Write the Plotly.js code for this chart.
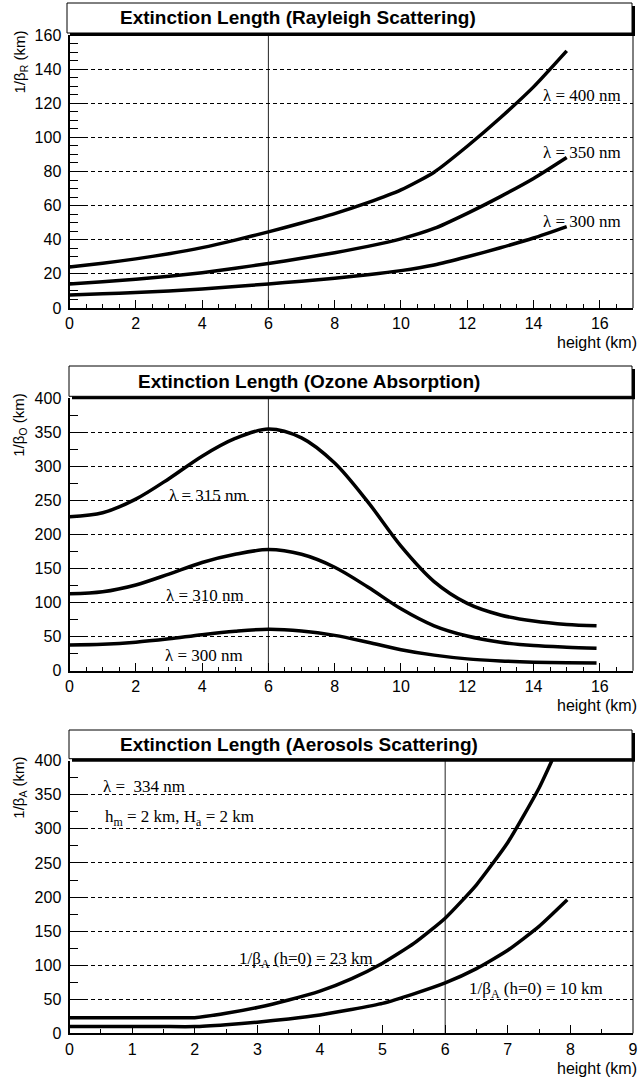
<!DOCTYPE html>
<html>
<head>
<meta charset="utf-8">
<script src="https://cdn.plot.ly/plotly-3.0.1.min.js"></script>
<style>
  html, body { margin: 0; padding: 0; background: #fff; }
  #chart { width: 641px; height: 1078px; }
</style>
</head>
<body>
<div id="chart"></div>
<script>
// ---- Rayleigh scattering: extinction length (km) vs height (km)
const rayleighHeight = [0, 1, 2, 3, 4, 5, 6, 7, 8, 9, 10, 11, 12, 13, 14, 15];
const rayleigh300 = [7.6, 8.3, 9.1, 10.0, 11.2, 12.6, 14.1, 15.7, 17.5, 19.5, 21.9, 25.2, 30.0, 35.3, 41.0, 47.7];
const rayleigh350 = [14.1, 15.4, 16.8, 18.6, 20.7, 23.3, 26.1, 29.1, 32.4, 36.1, 40.5, 46.6, 55.5, 65.3, 75.9, 88.2];
const rayleigh400 = [24.0, 26.2, 28.8, 31.8, 35.4, 39.8, 44.6, 49.8, 55.3, 61.7, 69.2, 79.6, 94.8, 111.5, 129.6, 150.7];

// ---- Ozone absorption
const ozoneHeight = [0, 1, 2, 3, 4, 5, 6, 7, 8, 9, 10, 11, 12, 13, 14, 15, 15.9];
const ozone300 = [38, 39, 42, 47, 53, 58, 61, 58.5, 52, 42, 31, 23, 17.5, 14.5, 12.7, 11.8, 11.4];
const ozone310 = [113, 116, 126, 142, 159, 171, 178, 171, 152, 123, 91, 66, 51, 42, 37, 34.5, 33];
const ozone315 = [226, 232, 252, 282, 315, 341, 355, 342, 305, 248, 183, 131, 99, 82, 73, 68, 66];

// ---- Aerosol scattering
const aerosolHeight = [0, 0.5, 1, 1.5, 2, 2.5, 3, 3.5, 4, 4.5, 5, 5.5, 6, 6.5, 7, 7.5, 7.95];
const aerosol23 = [23, 23, 23, 23, 23, 29.5, 38, 49, 62, 80, 103, 132, 169, 218, 280, 360, 450];
const aerosol10 = [10, 10, 10, 10, 10, 12.8, 16.5, 21.2, 27, 35, 44, 58, 74, 95, 122, 157, 196];

// ---- Text
const panelTitles = [
  'Extinction Length (Rayleigh Scattering)',
  'Extinction Length (Ozone Absorption)',
  'Extinction Length (Aerosols Scattering)'
];
const yTitles = ['1/β<sub>R</sub> (km)', '1/β<sub>O</sub> (km)', '1/β<sub>A</sub> (km)'];
const xTitle = 'height (km)';
const rayleighLabels = ['λ = 400 nm', 'λ = 350 nm', 'λ = 300 nm'];
const ozoneLabels = ['λ = 315 nm', 'λ = 310 nm', 'λ = 300 nm'];
const aerosolLabels = ['λ =&nbsp; 334 nm', 'h<sub>m</sub> = 2 km, H<sub>a</sub> = 2 km',
  '1/β<sub>A</sub> (h=0) = 23 km', '1/β<sub>A</sub> (h=0) = 10 km'];

// ---- Page geometry (pixels)
const W = 641, H = 1078;
const fx = p => p / W;
const fy = p => 1 - p / H;

const panels = [
  { l: 69.5, r: 633, t: 35,    b: 308,    boxTop: 3,   boxLeft: 67, titleX: 298 },
  { l: 69.5, r: 633, t: 398.3, b: 670.8,  boxTop: 366, boxLeft: 69, titleX: 309 },
  { l: 69.5, r: 633, t: 760.7, b: 1033.4, boxTop: 730, boxLeft: 69, titleX: 299 }
];

const sans = 'Liberation Sans, Arial, Helvetica, sans-serif';
const serif = 'Liberation Serif, Times New Roman, serif';
const tickFont = { family: sans, size: 16, color: '#000' };
const labelFont = { family: serif, size: 17, color: '#000' };

function xAxis(p, range, dtick, minor, anchor) {
  return {
    domain: [fx(p.l), fx(p.r)], range, anchor, dtick, tick0: 0,
    ticks: 'inside', ticklen: 8, tickwidth: 1, tickcolor: '#000',
    showline: true, linewidth: 2, linecolor: '#000',
    showgrid: false, zeroline: false, tickfont: tickFont, ticklabelstandoff: 0,
    minor: { dtick: minor, tick0: 0, ticks: 'inside', ticklen: 4, tickwidth: 1, tickcolor: '#000', showgrid: false },
    fixedrange: true
  };
}
function yAxis(p, range, dtick, minor, anchor) {
  return {
    domain: [fy(p.b), fy(p.t)], range, anchor, dtick, tick0: 0,
    ticks: 'inside', ticklen: 17, tickwidth: 1, tickcolor: '#000',
    showline: true, linewidth: 2, linecolor: '#000',
    showgrid: true, gridcolor: '#000', gridwidth: 1, griddash: '4px,3px',
    zeroline: false, tickfont: tickFont, ticklabelstandoff: 3,
    minor: { dtick: minor, tick0: 0, ticks: 'inside', ticklen: 8.5, tickwidth: 1, tickcolor: '#000', showgrid: false },
    fixedrange: true
  };
}

function curve(x, y, xa, ya, shape, smoothing) {
  return {
    x, y, xaxis: xa, yaxis: ya, type: 'scatter', mode: 'lines',
    line: { color: '#000', width: 3.5, shape: shape || 'linear', smoothing: smoothing || 1 },
    hoverinfo: 'skip', showlegend: false
  };
}

const data = [
  curve(rayleighHeight, rayleigh400, 'x', 'y', 'spline', 0.6),
  curve(rayleighHeight, rayleigh350, 'x', 'y', 'spline', 0.6),
  curve(rayleighHeight, rayleigh300, 'x', 'y', 'spline', 0.6),
  curve(ozoneHeight, ozone315, 'x2', 'y2', 'spline', 0.9),
  curve(ozoneHeight, ozone310, 'x2', 'y2', 'spline', 0.9),
  curve(ozoneHeight, ozone300, 'x2', 'y2', 'spline', 0.9),
  curve(aerosolHeight, aerosol23, 'x3', 'y3', 'spline', 0.5),
  curve(aerosolHeight, aerosol10, 'x3', 'y3', 'spline', 0.5)
];

const shapes = [];
const annotations = [];

panels.forEach((p, i) => {
  // title box with drop shadow
  shapes.push({ type: 'rect', xref: 'paper', yref: 'paper',
    x0: fx(p.boxLeft + 3), x1: fx(p.r + 2), y0: fy(p.t + 1), y1: fy(p.boxTop + 3),
    fillcolor: '#000', line: { width: 0 }, layer: 'above' });
  shapes.push({ type: 'rect', xref: 'paper', yref: 'paper',
    x0: fx(p.boxLeft), x1: fx(p.r - 1), y0: fy(p.t - 2), y1: fy(p.boxTop),
    fillcolor: '#fff', line: { color: '#000', width: 1 }, layer: 'above' });
  // right frame edge
  shapes.push({ type: 'line', xref: 'paper', yref: 'paper',
    x0: fx(p.r), x1: fx(p.r), y0: fy(p.b), y1: fy(p.t),
    line: { color: '#000', width: 1 } });
  // reference height at 6 km
  const ax = i === 0 ? '' : String(i + 1);
  shapes.push({ type: 'line', xref: 'x' + ax, yref: 'y' + ax + ' domain',
    x0: 6, x1: 6, y0: 0, y1: 1, line: { color: '#222', width: 1 }, layer: 'below' });

  annotations.push({ xref: 'paper', yref: 'paper', x: fx(p.titleX), y: fy((p.boxTop + p.t - 2) / 2),
    text: '<b>' + panelTitles[i] + '</b>', showarrow: false, xanchor: 'center', yanchor: 'middle',
    font: { family: sans, size: 19, color: '#000' } });
  annotations.push({ xref: 'paper', yref: 'paper', x: fx(20), y: fy(p.t - 6),
    text: yTitles[i], textangle: -90, showarrow: false, xanchor: 'center', yanchor: 'top',
    font: { family: sans, size: 15, color: '#000' } });
  annotations.push({ xref: 'paper', yref: 'paper', x: fx(639), y: fy(p.b + 35),
    text: xTitle, showarrow: false, xanchor: 'right', yanchor: 'middle',
    font: { family: sans, size: 16, color: '#000' } });
});

function label(text, x, y, xa, ya, anchor) {
  annotations.push({ xref: xa, yref: ya, x, y, text, showarrow: false,
    xanchor: anchor || 'center', yanchor: 'middle', font: labelFont });
}
label(rayleighLabels[0], 15.46, 124.3, 'x', 'y');
label(rayleighLabels[1], 15.46, 91.4, 'x', 'y');
label(rayleighLabels[2], 15.46, 50.6, 'x', 'y');
label(ozoneLabels[0], 4.18, 257, 'x2', 'y2');
label(ozoneLabels[1], 4.09, 111, 'x2', 'y2');
label(ozoneLabels[2], 4.06, 23, 'x2', 'y2');
label(aerosolLabels[0], 0.51, 362, 'x3', 'y3', 'left');
label(aerosolLabels[1], 0.53, 316, 'x3', 'y3', 'left');
label(aerosolLabels[2], 3.77, 107, 'x3', 'y3');
label(aerosolLabels[3], 7.45, 64, 'x3', 'y3');

const layout = {
  width: W, height: H,
  margin: { l: 0, r: 0, t: 0, b: 0 },
  paper_bgcolor: '#fff', plot_bgcolor: '#fff',
  showlegend: false,
  xaxis: xAxis(panels[0], [0, 17], 2, 0.5, 'y'),
  yaxis: yAxis(panels[0], [0, 160], 20, 5, 'x'),
  xaxis2: xAxis(panels[1], [0, 17], 2, 0.5, 'y2'),
  yaxis2: yAxis(panels[1], [0, 400], 50, 25, 'x2'),
  xaxis3: xAxis(panels[2], [0, 9], 1, 0.5, 'y3'),
  yaxis3: yAxis(panels[2], [0, 400], 50, 25, 'x3'),
  shapes, annotations
};

Plotly.newPlot('chart', data, layout, { staticPlot: true, displayModeBar: false });
</script>
</body>
</html>
